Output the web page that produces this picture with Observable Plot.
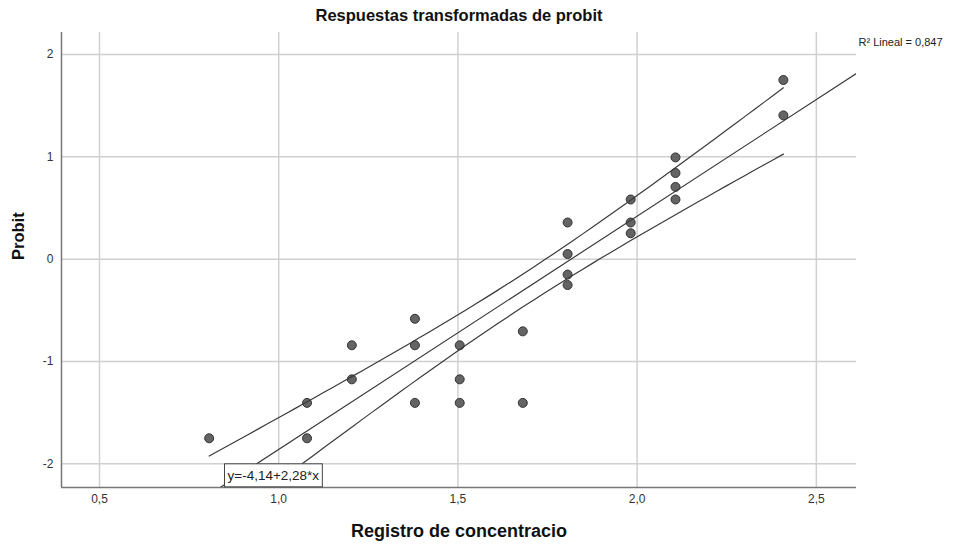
<!DOCTYPE html>
<html>
<head>
<meta charset="utf-8">
<script src="https://cdn.jsdelivr.net/npm/d3@7"></script>
<script src="https://cdn.jsdelivr.net/npm/@observablehq/plot@0.6"></script>
<style>
  html, body { margin: 0; padding: 0; background: #fff; }
  #chart svg { display: block; }
</style>
</head>
<body>
<div id="chart"></div>
<script>
// Log10 concentration of each observation and its probit-transformed response
const logConcentration = [
  0.806,
  1.079, 1.079,
  1.204, 1.204,
  1.380, 1.380, 1.380,
  1.505, 1.505, 1.505,
  1.681, 1.681,
  1.806, 1.806, 1.806, 1.806,
  1.982, 1.982, 1.982,
  2.107, 2.107, 2.107, 2.107,
  2.408, 2.408
];
const probit = [
  -1.751,
  -1.405, -1.751,
  -0.842, -1.175,
  -0.583, -0.842, -1.405,
  -0.842, -1.175, -1.405,
  -0.706, -1.405,
  0.358, 0.050, -0.151, -0.253,
  0.583, 0.358, 0.253,
  0.994, 0.842, 0.706, 0.583,
  1.751, 1.405
];

// Fitted linear model and its fit statistic
const INTERCEPT = -4.14;
const SLOPE = 2.28;
const R_SQUARED = 0.847;

const xTicks = [0.5, 1.0, 1.5, 2.0, 2.5];
const yTicks = [-2, -1, 0, 1, 2];
const X_DOMAIN = [0.394, 2.612];
const Y_DOMAIN = [-2.232, 2.215];

const title = "Respuestas transformadas de probit";
const xLabel = "Registro de concentracio";
const yLabel = "Probit";

const comma = (v, digits) => v.toFixed(digits).replace(".", ",");
const fit = x => INTERCEPT + SLOPE * x;
const eqLabel = `y=${comma(INTERCEPT, 2)}+${comma(SLOPE, 2)}*x`;
const r2Label = `R² Lineal = ${comma(R_SQUARED, 3)}`;

const points = logConcentration.map((x, i) => ({x, y: probit[i]}));

// 95% confidence band for the mean response
const n = points.length;
const xMean = d3.mean(logConcentration);
const sxx = d3.sum(logConcentration, x => (x - xMean) ** 2);
const sse = d3.sum(points, d => (d.y - fit(d.x)) ** 2);
const se = Math.sqrt(sse / (n - 2));
const T_CRIT = 2.064; // two-sided 95%, df = n - 2
const [xMin, xMax] = d3.extent(logConcentration);
const band = d3.range(61).map(i => {
  const x = xMin + (xMax - xMin) * i / 60;
  const h = T_CRIT * se * Math.sqrt(1 / n + (x - xMean) ** 2 / sxx);
  return {x, lo: fit(x) - h, hi: fit(x) + h};
});
const fitLine = X_DOMAIN.map(x => ({x, y: fit(x)}));

const lineColor = "#3a3a3a";
const gridColor = "#d0d0d0";

const chart = Plot.plot({
  width: 954,
  height: 546,
  marginLeft: 61,
  marginRight: 98,
  marginTop: 32,
  marginBottom: 59,
  style: {
    fontFamily: "'Liberation Sans', Arial, sans-serif",
    fontSize: "12px",
    color: "#333",
    background: "#fff"
  },
  x: {domain: X_DOMAIN},
  y: {domain: Y_DOMAIN},
  marks: [
    Plot.gridX(xTicks, {stroke: gridColor, strokeOpacity: 1, strokeWidth: 1.5}),
    Plot.gridY(yTicks, {stroke: gridColor, strokeOpacity: 1, strokeWidth: 1.5}),
    Plot.axisX({ticks: xTicks, tickFormat: d => comma(d, 1), tickSize: 0, tickPadding: 7, label: null, fontSize: 12}),
    Plot.axisY({ticks: yTicks, tickFormat: d => String(d), tickSize: 0, tickPadding: 8, label: null, fontSize: 12}),
    Plot.ruleX([X_DOMAIN[0]], {stroke: "#777", strokeWidth: 1.5}),
    Plot.ruleY([Y_DOMAIN[0]], {stroke: "#777", strokeWidth: 1.5}),
    Plot.dot(points, {x: "x", y: "y", r: 4.5, fill: "#646464", stroke: "#333", strokeWidth: 1}),
    Plot.line(band, {x: "x", y: "hi", stroke: lineColor, strokeWidth: 1.2, clip: true}),
    Plot.line(band, {x: "x", y: "lo", stroke: lineColor, strokeWidth: 1.2, clip: true}),
    Plot.line(fitLine, {x: "x", y: "y", stroke: lineColor, strokeWidth: 1.2, clip: true}),
    Plot.text([eqLabel], {frameAnchor: "bottom-left", dx: 166, dy: -12, textAnchor: "start", lineAnchor: "middle", fontSize: 13.5, fill: "#222"}),
    Plot.text([r2Label], {frameAnchor: "top-right", dx: 2, dy: 10, textAnchor: "start", lineAnchor: "middle", fontSize: 11, fill: "#222"}),
    Plot.text([title], {frameAnchor: "top", dy: -17, lineAnchor: "middle", fontSize: 16.5, fontWeight: "bold", fill: "#111"}),
    Plot.text([xLabel], {frameAnchor: "bottom", dy: 44, lineAnchor: "middle", fontSize: 18, fontWeight: "bold", fill: "#111"}),
    Plot.text([yLabel], {frameAnchor: "left", dx: -43, rotate: -90, lineAnchor: "middle", fontSize: 16.5, fontWeight: "bold", fill: "#111"})
  ]
});

document.getElementById("chart").appendChild(chart);

// Boxed equation label: draw a white framed rectangle behind its text
const eqText = Array.from(chart.querySelectorAll("text")).find(t => t.textContent === eqLabel);
if (eqText) {
  const bb = eqText.getBBox();
  const rect = document.createElementNS("http://www.w3.org/2000/svg", "rect");
  rect.setAttribute("x", bb.x - 3);
  rect.setAttribute("y", bb.y - 4);
  rect.setAttribute("width", bb.width + 6);
  rect.setAttribute("height", bb.height + 8);
  rect.setAttribute("fill", "#fff");
  rect.setAttribute("stroke", "#444");
  rect.setAttribute("stroke-width", 1);
  const tr = eqText.getAttribute("transform");
  if (tr) rect.setAttribute("transform", tr);
  eqText.parentNode.insertBefore(rect, eqText);
}
</script>
</body>
</html>
